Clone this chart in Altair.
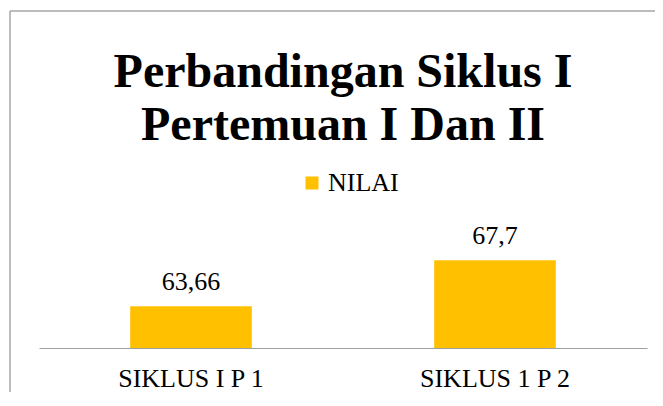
import altair as alt
import pandas as pd

# ---- data ----
categories = ["SIKLUS I P 1", "SIKLUS 1 P 2"]
values = [63.66, 67.7]
value_labels = ["63,66", "67,7"]
series_name = "NILAI"
title_lines = ["Perbandingan Siklus I", "Pertemuan I Dan II"]

df = pd.DataFrame({
    "kategori": categories,
    "nilai": values,
    "label": value_labels,
    "seri": [series_name] * len(categories),
})
one = pd.DataFrame({"k": [0]})

FONT = "Liberation Serif"
W, H = 608, 114
PAD = {"left": 31, "top": 226, "right": 8, "bottom": 44}
TOP = 8 + PAD["top"]  # page y of the plot area's top edge
GOLD = "#FFC000"
GRAY = "#A0A0A0"

x_enc = alt.X(
    "kategori:N",
    sort=categories,
    scale=alt.Scale(paddingInner=0.6, paddingOuter=0.3),
    axis=alt.Axis(
        title=None, labelAngle=0, ticks=False, domainColor=GRAY, domainWidth=1,
        labelFont=FONT, labelFontSize=26, labelColor="#000000", labelPadding=17,
    ),
)
y_enc = alt.Y("nilai:Q", scale=alt.Scale(domain=[60, 70], zero=False, nice=False), axis=None)

bars = alt.Chart(df).mark_bar(color=GOLD).encode(
    x=x_enc,
    y=y_enc,
    y2=alt.datum(60),
    color=alt.Color(
        "seri:N",
        scale=alt.Scale(range=[GOLD]),
        legend=alt.Legend(
            title=None, orient="none", legendX=260, legendY=170 - TOP,
            symbolType="square", symbolSize=169, symbolStrokeWidth=0,
            labelFont=FONT, labelFontSize=26, labelColor="#000000",
            labelOffset=3, padding=0,
        ),
    ),
)

labels = alt.Chart(df).mark_text(
    font=FONT, fontSize=26, color="#000000", baseline="alphabetic", dy=-16
).encode(x=x_enc, y=y_enc, text="label:N")

title = alt.Chart(one).mark_text(
    font=FONT, fontSize=48, fontWeight="bold", color="#000000",
    align="center", baseline="alphabetic", lineHeight=53,
).encode(x=alt.value(W / 2), y=alt.value(87 - TOP), text=alt.value(title_lines))

# frame of the chart box (left and top edges), kept inside the drawing area
border_left = alt.Chart(one).mark_rule(color="#A6A6A6", strokeWidth=1.5).encode(
    x=alt.value(-29), y=alt.value(11 - TOP), y2=alt.value(H + PAD["bottom"])
)
border_top = alt.Chart(one).mark_rule(color="#A6A6A6", strokeWidth=1.5).encode(
    x=alt.value(-29), x2=alt.value(W + PAD["right"]), y=alt.value(11 - TOP)
)

chart = alt.layer(border_left, border_top, bars, labels, title).properties(
    width=W, height=H,
    padding=PAD,
    autosize=alt.AutoSizeParams(type="none"),
    background="#FFFFFF",
).configure(font=FONT).configure_view(stroke=None).configure_legend(
    labelFont=FONT, labelFontSize=26, labelColor="#000000"
)

chart.save("out.html", embed_options={"renderer": "svg", "actions": False})
